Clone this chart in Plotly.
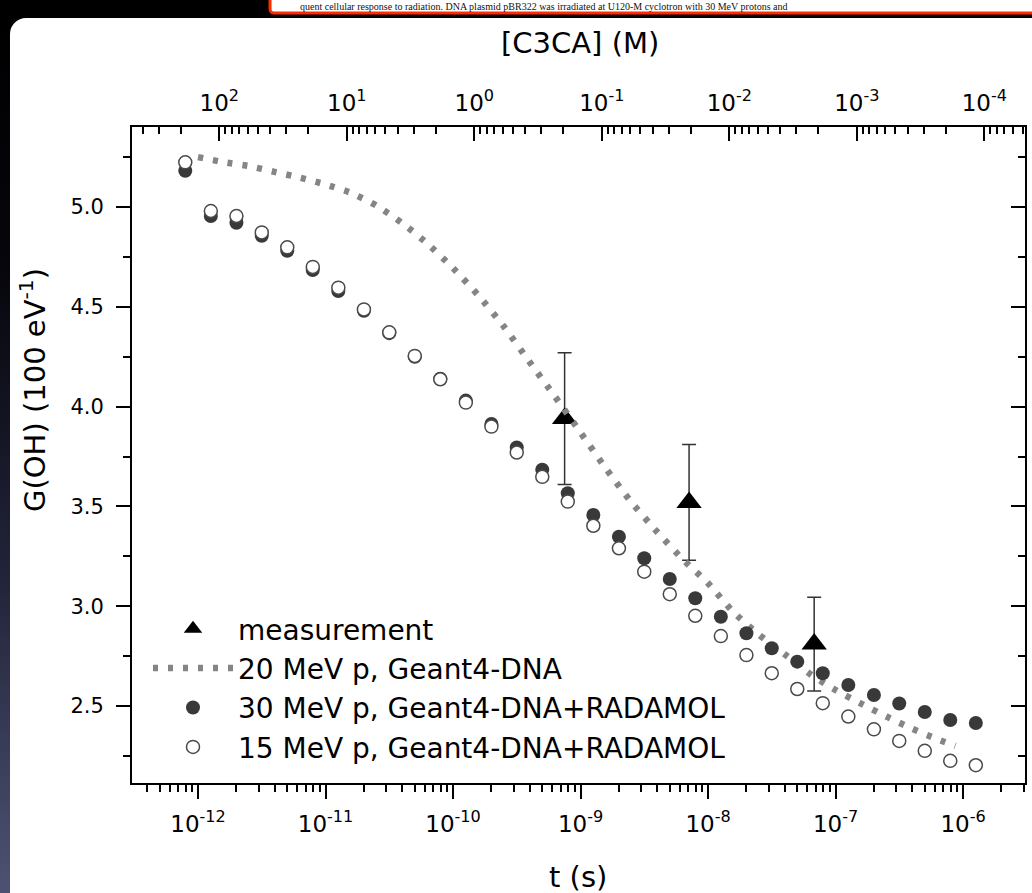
import base64
import plotly.graph_objects as go

# ---------------- data ----------------
# simulation time grid (s)
t_sim = [7.94e-13, 1.26e-12, 2.00e-12, 3.16e-12, 5.01e-12, 7.94e-12, 1.26e-11, 2.00e-11,
         3.16e-11, 5.01e-11, 7.94e-11, 1.26e-10, 2.00e-10, 3.16e-10, 5.01e-10, 7.94e-10,
         1.26e-9, 2.00e-9, 3.16e-9, 5.01e-9, 7.94e-9, 1.26e-8, 2.00e-8, 3.16e-8,
         5.01e-8, 7.94e-8, 1.26e-7, 2.00e-7, 3.16e-7, 5.01e-7, 7.94e-7, 1.26e-6]
# 30 MeV p, Geant4-DNA+RADAMOL (filled circles)
g_30 = [5.182, 4.955, 4.921, 4.856, 4.781, 4.684, 4.579, 4.480, 4.368, 4.250, 4.140, 4.030,
        3.913, 3.795, 3.684, 3.566, 3.457, 3.348, 3.240, 3.136, 3.040, 2.947, 2.864, 2.789,
        2.722, 2.664, 2.605, 2.555, 2.512, 2.470, 2.430, 2.415]
# 15 MeV p, Geant4-DNA+RADAMOL (open circles)
g_15 = [5.224, 4.980, 4.955, 4.873, 4.798, 4.700, 4.596, 4.487, 4.372, 4.254, 4.137, 4.020,
        3.900, 3.770, 3.648, 3.524, 3.403, 3.290, 3.173, 3.060, 2.952, 2.850, 2.755, 2.664,
        2.585, 2.514, 2.447, 2.383, 2.325, 2.275, 2.225, 2.203]
# 20 MeV p, Geant4-DNA (dotted curve)
t_g4 = [1.00e-12, 1.58e-12, 2.51e-12, 3.98e-12, 6.31e-12, 1.00e-11, 1.58e-11, 2.51e-11,
        3.98e-11, 6.31e-11, 1.00e-10, 1.58e-10, 2.51e-10, 3.98e-10, 6.31e-10, 1.00e-9,
        1.58e-9, 2.51e-9, 3.98e-9, 6.31e-9, 1.00e-8, 1.58e-8, 2.51e-8, 3.98e-8,
        6.31e-8, 1.00e-7, 1.58e-7, 2.51e-7, 3.98e-7, 6.31e-7, 8.71e-7]
g_g4 = [5.250, 5.225, 5.205, 5.176, 5.147, 5.113, 5.071, 5.007, 4.920, 4.816, 4.694, 4.557,
        4.400, 4.224, 4.050, 3.870, 3.690, 3.520, 3.373, 3.236, 3.115, 2.970, 2.857, 2.760,
        2.660, 2.580, 2.512, 2.447, 2.386, 2.333, 2.300]
# measurement
t_meas = [7.5e-10, 7.1e-9, 6.8e-8]
g_meas = [3.94, 3.52, 2.81]
err_meas = [0.33, 0.29, 0.235]

# axis ticks
t_ticks = [1e-12, 1e-11, 1e-10, 1e-9, 1e-8, 1e-7, 1e-6]
t_ticktext = ["10<sup>-12</sup>", "10<sup>-11</sup>", "10<sup>-10</sup>", "10<sup>-9</sup>",
              "10<sup>-8</sup>", "10<sup>-7</sup>", "10<sup>-6</sup>"]
c_ticks = [1e2, 1e1, 1e0, 1e-1, 1e-2, 1e-3, 1e-4]
c_ticktext = ["10<sup>2</sup>", "10<sup>1</sup>", "10<sup>0</sup>", "10<sup>-1</sup>",
              "10<sup>-2</sup>", "10<sup>-3</sup>", "10<sup>-4</sup>"]
g_ticks = [2.5, 3.0, 3.5, 4.0, 4.5, 5.0]
g_ticktext = ["2.5", "3.0", "3.5", "4.0", "4.5", "5.0"]
g_minor = [2.25, 2.75, 3.25, 3.75, 4.25, 4.75, 5.25]

t_minor = [k * 10.0 ** n for n in range(-13, -5) for k in range(2, 10)]
c_minor = [k * 10.0 ** n for n in range(-5, 3) for k in range(2, 10)]

# ---------------- layout geometry ----------------
W, H = 1032, 893
L_M, R_M, T_M, B_M = 132, 7, 127, 110
PW, PH = W - L_M - R_M, H - T_M - B_M


def px(x):
    return (x - L_M) / PW


def py(y):
    return (H - B_M - y) / PH


FONT = "DejaVu Sans"
INK = "#000000"

svg = """<svg xmlns='http://www.w3.org/2000/svg' width='1032' height='893' viewBox='0 0 1032 893'>
<defs><linearGradient id='g' x1='0' y1='0' x2='0' y2='1'>
<stop offset='0' stop-color='#000000'/><stop offset='0.3' stop-color='#06060c'/>
<stop offset='0.65' stop-color='#22243a'/><stop offset='1' stop-color='#4e5272'/></linearGradient></defs>
<rect x='0' y='0' width='1032' height='893' fill='url(#g)'/>
<rect x='10' y='18' width='1060' height='920' rx='16' ry='16' fill='#ffffff'/>
<rect x='270' y='-10' width='800' height='23' rx='4' ry='4' fill='#ffffff' stroke='#ff2a00' stroke-width='3'/>
</svg>"""
svg_uri = "data:image/svg+xml;base64," + base64.b64encode(svg.encode()).decode()

fig = go.Figure()

fig.add_trace(go.Scatter(
    x=t_meas, y=g_meas, mode="markers", name="measurement",
    marker=dict(symbol="triangle-up", size=22, color="black"),
    error_y=dict(type="data", array=err_meas, visible=True, color="#333333",
                 thickness=1.5, width=7),
))
fig.add_trace(go.Scatter(
    x=t_g4, y=g_g4, mode="lines", name="20 MeV p, Geant4-DNA",
    line=dict(color="#858585", width=6.5, dash="5px,10px", shape="spline", smoothing=0.6),
))
fig.add_trace(go.Scatter(
    x=t_sim, y=g_30, mode="markers", name="30 MeV p, Geant4-DNA+RADAMOL",
    marker=dict(symbol="circle", size=14, color="#393939", line=dict(width=0)),
))
fig.add_trace(go.Scatter(
    x=t_sim, y=g_15, mode="markers", name="15 MeV p, Geant4-DNA+RADAMOL",
    marker=dict(symbol="circle", size=13, color="white", line=dict(width=1.5, color="#4a4a4a")),
))
# empty traces registering the secondary (top / right) axes
fig.add_trace(go.Scatter(x=[], y=[], xaxis="x2", yaxis="y", showlegend=False, hoverinfo="skip"))
fig.add_trace(go.Scatter(x=[], y=[], xaxis="x", yaxis="y2", showlegend=False, hoverinfo="skip"))

axis_common = dict(showline=True, linewidth=2, linecolor=INK, showgrid=False, zeroline=False,
                   tickwidth=2, tickcolor=INK, ticklen=14,
                   tickfont=dict(family=FONT, size=23, color=INK))

fig.update_layout(
    width=W, height=H,
    margin=dict(l=L_M, r=R_M, t=T_M, b=B_M, pad=0),
    paper_bgcolor="#000000", plot_bgcolor="#ffffff",
    font=dict(family=FONT, color=INK),
    xaxis=dict(type="log", range=[-12.518, -5.514], tickmode="array", tickvals=t_ticks,
               ticktext=t_ticktext, ticks="outside", ticklabelstandoff=5,
               minor=dict(tickmode="array", tickvals=t_minor, ticks="outside", ticklen=7,
                          tickwidth=2, tickcolor=INK, showgrid=False),
               **axis_common),
    xaxis2=dict(type="log", overlaying="x", side="top", range=[2.685, -4.319],
                tickmode="array", tickvals=c_ticks, ticktext=c_ticktext, ticks="inside",
                ticklabelstandoff=5,
                minor=dict(tickmode="array", tickvals=c_minor, ticks="inside", ticklen=7,
                           tickwidth=2, tickcolor=INK, showgrid=False),
                **axis_common),
    yaxis=dict(range=[2.114, 5.401], tickmode="array", tickvals=g_ticks, ticktext=g_ticktext,
               ticks="outside", ticklabelstandoff=8,
               minor=dict(tickmode="array", tickvals=g_minor, ticks="outside", ticklen=7,
                          tickwidth=2, tickcolor=INK, showgrid=False),
               **{**axis_common, "tickfont": dict(family=FONT, size=21, color=INK)}),
    yaxis2=dict(range=[2.114, 5.401], overlaying="y", side="right", tickmode="array",
                tickvals=g_ticks, ticks="inside", showticklabels=False,
                minor=dict(tickmode="array", tickvals=g_minor, ticks="inside", ticklen=7,
                           tickwidth=2, tickcolor=INK, showgrid=False),
                **axis_common),
    showlegend=True,
    legend=dict(x=px(148), y=py(604), xanchor="left", yanchor="top",
                bgcolor="rgba(0,0,0,0)", borderwidth=0, itemwidth=80,
                font=dict(family=FONT, size=28, color=INK), tracegroupgap=0),
    images=[dict(source=svg_uri, xref="paper", yref="paper", x=px(0), y=py(0),
                 sizex=W / PW, sizey=H / PH, xanchor="left", yanchor="top",
                 sizing="stretch", layer="below")],
    annotations=[
        dict(text="G(OH) (100 eV<sup>-1</sup>)", xref="paper", yref="paper", x=px(33), y=py(390),
             textangle=-90, showarrow=False, xanchor="center", yanchor="middle",
             font=dict(family=FONT, size=29, color=INK)),
        dict(text="t (s)", xref="paper", yref="paper", x=px(578), y=py(877), showarrow=False,
             xanchor="center", yanchor="middle", font=dict(family=FONT, size=29, color=INK)),
        dict(text="[C3CA] (M)", xref="paper", yref="paper", x=px(580), y=py(43), showarrow=False,
             xanchor="center", yanchor="middle", font=dict(family=FONT, size=29, color=INK)),
        dict(text="quent cellular response to radiation. DNA plasmid pBR322 was irradiated at "
                  "U120-M cyclotron with 30 MeV protons and",
             xref="paper", yref="paper", x=px(299), y=py(0), showarrow=False,
             xanchor="left", yanchor="top", borderpad=0,
             font=dict(family="Liberation Serif", size=10, color="#111111")),
    ],
)

fig.write_html("out.html")
